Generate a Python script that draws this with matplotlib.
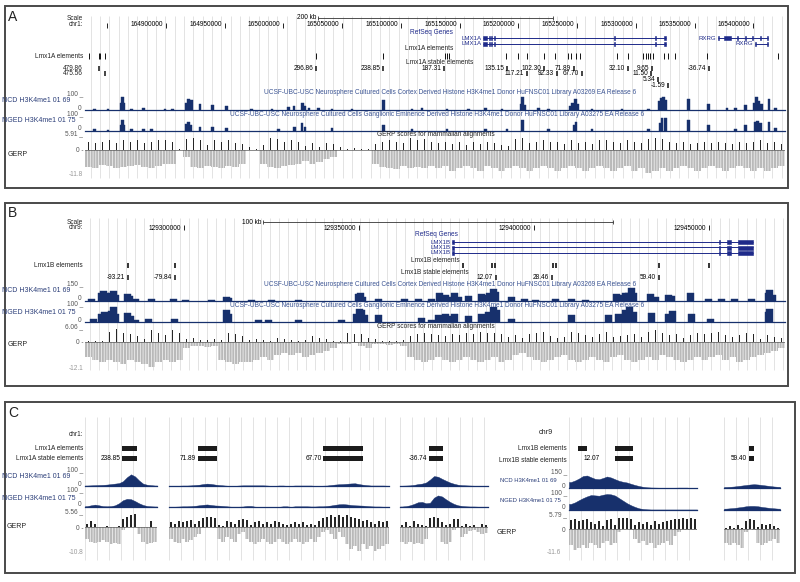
import numpy as np
import matplotlib
matplotlib.use("Agg")
import matplotlib.pyplot as plt
from matplotlib.patches import Rectangle

plt.rcParams['font.family'] = ['Liberation Sans', 'DejaVu Sans']
plt.rcParams['hatch.linewidth'] = 0.45

# ======================= DATA =======================
# ---- Panel A : chr1 (kb) ----
A_XLIM = (164831.0, 165427.0)
A_TICKS = [164850, 164900, 164950, 165000, 165050, 165100, 165150,
           165200, 165250, 165300, 165350, 165400]
A_SCALEBAR = (165029.5, 165229.5)          # 200 kb
A_GENE_NAMES = ['LMX1A', 'LMX1A', 'RXRG', 'RXRG']
A_GENE_ROW = [0, 1, 0, 1]
A_GENE_START = [165170.1, 165170.1, 165370.3, 165401.8]
A_GENE_END = [165325.6, 165325.6, 165412.9, 165412.9]
A_LMX1A_EXONS = [(165170.1, 165173.5), (165175.0, 165175.6), (165176.6, 165177.2),
                 (165179.2, 165179.8), (165281.7, 165282.3), (165316.6, 165317.2),
                 (165324.3, 165325.6)]
A_RXRG1_EXONS = [(165370.3, 165371.0), (165375.4, 165381.4), (165386.2, 165386.8),
                 (165393.0, 165393.6), (165399.0, 165399.6), (165405.8, 165406.4),
                 (165411.8, 165412.9)]
A_RXRG2_EXONS = [(165401.8, 165402.4), (165411.8, 165412.9)]
A_ELEM = [164834.4, 164842.9, 164843.8, 164848.0, 165027.8, 165084.9, 165137.7,
          165139.4, 165141.1, 165189.7, 165199.9, 165207.6, 165222.1, 165231.4,
          165242.5, 165245.1, 165249.3, 165252.7, 165284.3, 165293.6, 165306.4,
          165308.9, 165310.7, 165312.4, 165314.9, 165324.3, 165327.7, 165333.7,
          165360.9, 165421.4]
A_STABLE_POS = [164842.9, 164848.0, 165027.8, 165084.9, 165136.9, 165190.5, 165207.6,
                165222.1, 165233.1, 165247.6, 165254.4, 165293.6, 165314.1, 165313.2,
                165319.2, 165327.7, 165362.6]
A_STABLE_LAB = ['479.86', '475.56', '296.86', '238.85', '187.31', '135.15', '117.21',
                '102.30', '92.33', '71.89', '67.70', '32.10', '9.65', '11.50', '5.34',
                '-1.59', '-36.74']
A_STABLE_ROW = [0, 1, 0, 0, 0, 0, 1, 0, 1, 0, 1, 0, 0, 1, 2, 3, 0]

A_NCD_POS = [164838.9, 164850.6, 164861.7, 164862.8, 164864.0, 164870.8, 164880.7,
             164899.1, 164905.4, 164917.6, 164919.0, 164920.7, 164921.9, 164929.0,
             164939.4, 164951.7, 164973.0, 164990.1, 165004.2, 165009.1, 165016.1,
             165018.4, 165021.8, 165029.8, 165041.2, 165058.2, 165085.1, 165109.3,
             165117.9, 165139.2, 165157.6, 165171.8, 165186.0, 165202.5, 165203.6,
             165205.3, 165217.2, 165225.7, 165244.2, 165246.2, 165248.5, 165250.2,
             165262.7, 165288.3, 165310.9, 165320.0, 165321.7, 165323.7, 165325.4,
             165345.0, 165362.0, 165377.7, 165384.8, 165393.3, 165401.2, 165402.9,
             165404.6, 165406.9, 165413.2, 165418.9]
A_NCD_VAL = [10, 8, 45, 90, 50, 10, 12, 8, 10, 50, 72, 60, 65, 40, 32, 25, 8, 10, 18,
             28, 45, 28, 15, 12, 10, 8, 65, 10, 12, 8, 10, 12, 10, 40, 85, 35, 12, 10,
             30, 45, 72, 40, 8, 10, 10, 60, 78, 90, 70, 73, 42, 15, 12, 35, 45, 85, 60,
             40, 73, 15]
A_NGED_POS = [164838.9, 164850.6, 164861.7, 164862.8, 164864.0, 164870.8, 164880.7,
              164887.8, 164917.6, 164919.0, 164920.7, 164929.0, 164939.4, 164951.7,
              164995.7, 165009.3, 165015.6, 165018.4, 165041.2, 165085.1, 165109.3,
              165139.2, 165171.8, 165190.3, 165203.6, 165225.7, 165247.9, 165249.1,
              165262.7, 165310.9, 165320.9, 165322.3, 165325.1, 165345.0, 165362.0,
              165384.8, 165393.3, 165401.8, 165403.8, 165406.1, 165413.2, 165418.9]
A_NGED_VAL = [12, 8, 38, 69, 38, 12, 12, 10, 42, 54, 38, 25, 27, 20, 15, 25, 48, 25,
              20, 37, 12, 12, 12, 12, 69, 12, 38, 58, 10, 15, 48, 79, 83, 69, 37, 12,
              37, 58, 62, 48, 58, 20]
A_GERP_POS = [3.5, 3, 3.5, 4, 3, 4, 3.5, 4, 3, 3.5, 4, 4, 3.5, 0.3, 4.5, 5, 4, 2, 4, 3.5,
              4, 3, 2.5, 1, 0.5, 2, 5, 4.5, 3.5, 4, 3.5, 1.5, 3, 1, 3, 2.5, 1, 0.3, 0.8, 0.3,
              0.3, 2.5, 3.5, 4, 3.5, 3, 5, 4, 4.5, 3.5, 3, 3.5, 2.5, 3.5, 2, 3.5, 2.5, 3.5, 3, 2,
              1.5, 4.5, 5, 3, 3.5, 4, 3.5, 3.5, 2.5, 4, 3, 3.5, 2.5, 4, 4, 3.5, 3, 4, 3.5, 3,
              4.5, 5, 4.5, 3.5, 3, 3.5, 2.5, 3, 3.5, 3, 3.5, 3, 2.5, 3.5, 3, 3.5, 4, 3, 3.5, 2.5]
A_GERP_NEG = [-7.5, -8, -6.5, -7, -8, -7.5, -7, -6.5, -7.5, -8, -7, -6, -6, 0, -3, -7.5,
              -8, -7, -7.5, -8, -7, -7.5, -6, 0, 0, -6, -7.5, -8, -7, -6.5, -6, -5, -6,
              -5.5, -4, -3, 0, 0, 0, 0, 0, -6, -7.5, -8, -8.5, -7, -8, -7.5, -8, -7,
              -8, -7, -9, -8, -7, -8, -9, -7, -8, -9, -8, -7, -8, -9, -8, -7, -8, -9, -8, -7,
              -8, -9, -8, -7, -8, -9, -8, -7, -9, -8, -10, -9, -8, -9, -8, -7, -8, -9, -8, -7,
              -8, -9, -8, -7, -8, -9, -8, -9, -8, -7]

# ---- Panel B : chr9 (kb) ----
B_XLIM = (129271.7, 129471.7)
B_TICKS = [129300, 129350, 129400, 129450]
B_SCALEBAR = (129322.6, 129422.6)          # 100 kb
B_GENE_NAMES = ['LMX1B', 'LMX1B', 'LMX1B']
B_GENE_ROW = [0, 1, 2]
B_GENE_START = [129376.6, 129376.6, 129376.6]
B_GENE_END = [129462.6, 129462.6, 129462.6]
B_LMX1B_EXONS = [(129376.6, 129377.2), (129452.8, 129453.2), (129455.1, 129456.3),
                 (129458.3, 129462.6)]
B_ELEM = [129284.0, 129297.4, 129379.7, 129388.0, 129388.9, 129405.4, 129406.3,
          129435.7, 129450.0]
B_STABLE_POS = [129284.0, 129297.4, 129389.1, 129405.1, 129435.7]
B_STABLE_LAB = ['-93.21', '-79.84', '12.07', '28.46', '59.40']
B_STABLE_ROW = [0, 0, 0, 0, 0]

B_NCD_POS = [129273.6, 129276.3, 129276.9, 129277.6, 129278.4, 129279.3, 129279.9,
             129280.5, 129283.9, 129284.4, 129286.0, 129290.8, 129296.9, 129300.3,
             129307.9, 129312.2, 129312.7, 129319.3, 129325.1, 129332.7, 129349.8,
             129350.4, 129350.9, 129355.5, 129363.1, 129366.9, 129370.8, 129373.1,
             129374.6, 129376.0, 129377.4, 129378.4, 129381.2, 129385.1, 129386.0,
             129387.4, 129388.4, 129389.1, 129393.6, 129397.4, 129400.3, 129406.0,
             129410.8, 129414.6, 129423.6, 129424.6, 129426.0, 129426.9, 129427.7,
             129428.4, 129433.4, 129434.6, 129438.4, 129439.3, 129444.8, 129449.8,
             129453.6, 129457.4, 129462.2, 129466.9, 129467.4, 129468.1]
B_NCD_VAL = [15, 74, 91, 68, 32, 74, 88, 53, 62, 44, 20, 15, 20, 9, 9, 38, 24, 12, 12, 9,
             62, 68, 38, 15, 15, 18, 15, 68, 53, 38, 68, 38, 44, 62, 53, 74, 103, 82, 32,
             15, 9, 15, 15, 9, 62, 53, 68, 74, 112, 68, 62, 38, 53, 44, 74, 20, 18, 15,
             15, 74, 97, 53]
B_NGED_POS = [129274.1, 129276.5, 129277.2, 129278.0, 129279.3, 129279.8, 129280.5,
              129283.9, 129284.6, 129286.0, 129289.8, 129297.2, 129312.2, 129312.7,
              129321.2, 129324.1, 129332.7, 129345.1, 129349.3, 129350.0, 129350.8,
              129351.5, 129355.5, 129367.9, 129370.8, 129372.7, 129374.6, 129376.0,
              129377.4, 129381.2, 129385.1, 129386.9, 129388.4, 129389.3, 129393.6,
              129410.8, 129421.2, 129424.1, 129426.0, 129427.4, 129428.4, 129433.6,
              129438.4, 129439.5, 129445.1, 129450.3, 129466.9, 129467.4]
B_NGED_VAL = [19, 47, 57, 38, 62, 81, 47, 51, 32, 13, 19, 19, 66, 47, 13, 13, 13, 9, 47,
              70, 66, 38, 38, 23, 13, 38, 47, 32, 47, 32, 47, 57, 85, 66, 19, 38, 38, 47,
              66, 81, 57, 51, 47, 62, 47, 19, 57, 70]
B_GERP_POS = [0.3, 0.5, 0.5, 4.5, 5.5, 4, 3.5, 2.5, 1, 5, 4, 3, 5, 4, 1, 1.5, 0.8, 0.8, 1, 0.8,
              4, 3.5, 2.5, 0.8, 1, 0.8, 0.5, 1.5, 1, 0.8, 0.5, 0.8, 2.5, 1.5, 1, 0.5, 0.3, 4, 3.5, 3.5,
              1.5, 1, 0.5, 0.5, 0.5, 0.8, 2.5, 3.5, 4, 3.5, 3, 2.5, 3.5, 3, 4, 3.5, 4.5, 4, 4, 3.5,
              2, 3, 1.5, 3.5, 4, 4.5, 2.5, 1.5, 2, 4.5, 4, 3, 2, 3.5, 4.5, 2, 2.5, 3, 3.5, 2,
              4.5, 5, 4, 3, 3.5, 1.5, 3, 4, 3.5, 4, 4.5, 3, 2, 3, 4, 3.5, 1, 3, 2, 1.5]
B_GERP_NEG = [-7, -8, -9, -8, -9, -10, -8, -9, -10, -11, -9, -8, -9, -8, -3, -2, -2, -2.5, -2, -8,
              -9, -10, -9, -9, -8, -7, -8, -6, -5, -6, -5, -7, -6, -5, -4, -3, -1, -1, -0.5, -2,
              -3, -1, -1, -1.5, -1, -2, -7, -8, -9, -8, -7, -8, -9, -8, -7, -8, -9, -8, -7, -9,
              -8, -6, -5, -7, -8, -9, -8, -7, -6, -8, -9, -8, -7, -8, -9, -7, -6, -8, -9, -8,
              -7, -8, -6, -7, -8, -9, -8, -7, -8, -7, -6, -8, -7, -9, -8, -7, -6, -5, -4, -3]

# ---- Panel C : close-ups (bin units) ----
C_L1_ELEM_START, C_L1_ELEM_END = [9.3], [13.0]
C_L1_STAB_START, C_L1_STAB_END, C_L1_STAB_LAB = [9.3], [13.0], ['238.85']
C_L1_NCD = [3, 4, 5, 6, 7, 9, 12, 15, 18, 30, 55, 73, 60, 35, 15, 8, 5, 3]
C_L1_NGED = [5, 10, 14, 10, 5, 4, 5, 10, 22, 40, 48, 46, 35, 22, 12, 6, 4, 3]
C_L1_GPOS = [1.5, 2.5, 1.5, 0, 0, 0.5, 0, 0, 0.5, 3.5, 4.5, 5, 5.5, 0.3, 0, 0, 2.5, 0.3]
C_L1_GNEG = [-5, -6, -6.5, -6, -5.5, -6, -7, -6.5, -7, -1, 0, 0, 0, -3, -6, -7, -6.5, -6]

C_L2_ELEM_START, C_L2_ELEM_END = [7.3, 38.6], [12.0, 48.6]
C_L2_STAB_START, C_L2_STAB_END, C_L2_STAB_LAB = [7.3, 38.6], [12.0, 48.6], ['71.89', '67.70']
C_L2_NCD = [2, 2, 2, 3, 3, 4, 6, 8, 12, 15, 13, 9, 6, 4, 2, 1, 1, 3, 4, 4, 4, 4, 4, 4, 3, 1, 1,
            3, 3, 1, 1, 3, 3, 3, 3, 3, 1, 1, 2, 3, 6, 9, 11, 12, 14, 16, 17, 12, 8, 5, 3, 3, 3, 3, 2]
C_L2_NGED = [2, 2, 3, 4, 4, 5, 7, 10, 13, 15, 12, 9, 8, 6, 4, 2, 2, 2, 3, 6, 6, 2, 1, 1, 1, 1, 1,
             1, 4, 4, 1, 4, 4, 4, 4, 3, 3, 4, 4, 6, 9, 13, 16, 17, 15, 12, 10, 9, 8, 6, 4, 3, 3, 2, 2]
C_L2_GPOS = [2, 1.5, 2.5, 2, 2.5, 3, 1.5, 2.5, 4, 4.5, 4.5, 4, 1, 0.5, 2.5, 2, 1.5, 3, 3.5, 3,
             1, 2, 2.5, 1.5, 2, 1.5, 2.5, 2, 1.5, 1, 1.5, 2, 1.5, 2, 1, 1.5, 1, 2.5, 4, 4.5,
             5, 4.5, 5, 4.5, 5, 4.5, 4, 3.5, 2.5, 3, 2, 1.5, 2.5, 2, 2.5]
C_L2_GNEG = [-5, -6, -6.5, -5, -6, -5.5, -4, -3, -0.5, 0, 0, -0.5, -5, -6, -4, -5, -6, -3, -2, -5,
             -6, -7, -6, -5, -6, -7, -6, -5, -6, -7, -6, -5, -6, -7, -6, -5, -6, -4, -2, -1,
             -3, -5, -2, -4, -7, -9, -8, -10, -7, -9, -8, -10, -9, -8, -7]

C_L3_ELEM_START, C_L3_ELEM_END = [7.3], [10.8]
C_L3_STAB_START, C_L3_STAB_END, C_L3_STAB_LAB = [7.3], [10.8], ['-36.74']
C_L3_NCD = [2, 3, 4, 7, 12, 15, 22, 40, 62, 58, 45, 33, 22, 14, 8, 5, 4, 3, 2, 2, 2, 2]
C_L3_NGED = [3, 5, 10, 18, 28, 30, 22, 25, 55, 68, 62, 45, 30, 18, 10, 6, 4, 3, 3, 2, 2, 2]
C_L3_GPOS = [1, 2, 0.5, 2.5, 1.5, 1, 0.5, 4, 4.5, 4, 2, 1, 1.5, 3.5, 3.5, 0.5, 1.5, 0.5, 1, 0.3, 1.5, 1]
C_L3_GNEG = [-6, -7, -6, -7, -6.5, -7, -5, -0.5, 0, -0.5, -6, -7, -6, -1, -0.5, -4, -3, -1.5, -1, -2, -3, -2.5]

C_R1_ELEM_START, C_R1_ELEM_END = [2.3, 11.5], [4.6, 15.9]
C_R1_STAB_START, C_R1_STAB_END, C_R1_STAB_LAB = [11.5], [15.9], ['12.07']
C_R1_NCD = [60, 75, 95, 120, 125, 108, 92, 88, 100, 115, 105, 88, 72, 62, 55, 42, 30, 20, 12, 7,
            5, 4, 3, 3, 3, 3, 3, 4, 4, 4, 0, 0]
C_R1_NGED = [36, 45, 58, 70, 80, 88, 86, 84, 90, 94, 92, 85, 70, 55, 40, 28, 18, 10, 6, 4,
             3, 3, 3, 3, 3, 3, 3, 3, 3, 3, 3, 3]
C_R1_GPOS = [4, 4.5, 3.5, 4, 4.5, 3, 2.5, 3.5, 1.5, 4, 4.5, 2, 5, 5, 5, 4.5, 2, 3, 2.5, 3,
             2, 3.5, 2.5, 3, 3.5, 4, 4.5, 4.5, 5, 4.5, 5, 4.5]
C_R1_GNEG = [-7, -9, -8, -7, -8, -6, -7, -8, -6, -5, -7, -6, -1, 0, 0, -0.5, -4, -6, -5, -7,
             -6, -8, -7, -6, -5, -7, -3, -1, -0.5, -0.5, -0.5, -0.5]

C_R2_ELEM_START, C_R2_ELEM_END = [6.3], [7.5]
C_R2_STAB_START, C_R2_STAB_END, C_R2_STAB_LAB = [6.3], [7.5], ['59.40']
C_R2_NCD = [10, 12, 15, 20, 25, 30, 35, 38, 35, 30, 25, 20, 15, 12]
C_R2_NGED = [8, 10, 12, 15, 18, 22, 24, 24, 22, 18, 15, 12, 10, 8]
C_R2_GPOS = [0.5, 1.5, 0.5, 2, 0.5, 3.5, 4.5, 4, 1, 2.5, 2, 2.5, 1.5, 0.5]
C_R2_GNEG = [-6, -7, -6, -7, -8, -1, 0, -0.5, -6, -7, -6, -5, -4, -6]

NCD_TITLE_A = ("UCSF-UBC-USC Neurosphere Cultured Cells Cortex Derived Histone H3K4me1 "
               "Donor HuFNSC01 Library A03269 EA Release 6")
NGED_TITLE_A = ("UCSF-UBC-USC Neurosphere Cultured Cells Ganglionic Eminence Derived Histone "
                "H3K4me1 Donor HuFNSC01 Library A03275 EA Release 6")
GERP_TITLE = "GERP scores for mammalian alignments"

# ======================= STYLE / HELPERS =======================
W, H = 800, 582
NAVY = '#17306c'
LABEL_BLUE = '#2a3d78'
TITLE_BLUE = '#3b5493'
GENE_BLUE = '#1e2a8a'
GRID = '#dedede'
POS_C = '#262626'
NEG_C = '#b9b9b9'
VAL_C = '#555555'
FS = 4.7

fig = plt.figure(figsize=(W / 100, H / 100), dpi=100)


def fpos(x0, y0, x1, y1):
    return [x0 / W, 1 - y1 / H, (x1 - x0) / W, (y1 - y0) / H]


def new_ax(box, xlim, ylim):
    ax = fig.add_axes(fpos(*box))
    ax.set_xlim(*xlim)
    ax.set_ylim(*ylim)
    ax.set_axis_off()
    return ax


def ftext(x, y, s, ha='right', va='center', size=FS, color='#222222', **kw):
    fig.text(x / W, 1 - y / H, s, ha=ha, va=va, fontsize=size, color=color, **kw)


def border(x0, y0, x1, y1):
    fig.patches.append(Rectangle((x0 / W, 1 - y1 / H), (x1 - x0) / W, (y1 - y0) / H,
                                 transform=fig.transFigure, fill=False,
                                 edgecolor='#4a4a4a', lw=1.4))


def grid_lines(ov, xlim, step, y0, y1, start=None):
    s = xlim[0] + step * 0.6 if start is None else start
    ov.vlines(np.arange(s, xlim[1] + 1e-9, step), y0, y1, color=GRID, lw=0.6, zorder=0)


def peak_track(box, xlim, ymax, pos, val, width):
    ax = new_ax(box, xlim, (0, ymax))
    ax.bar(pos, val, width=width, color=NAVY, edgecolor=NAVY, linewidth=0.3)
    ax.axhline(0, color=NAVY, lw=0.9, clip_on=False)
    return ax


def area_track(box, nb, ymax, vals):
    ax = new_ax(box, (0, nb), (0, ymax))
    x = np.arange(nb) + 0.5
    xs = np.concatenate([[0], x, [nb]])
    ys = np.concatenate([[vals[0]], vals, [vals[-1]]])
    ax.fill_between(xs, 0, ys, color=NAVY, lw=0.3, edgecolor=NAVY)
    ax.axhline(0, color=NAVY, lw=0.9, clip_on=False)
    return ax


def gerp_track(box, xlim, ylim, pos_vals, neg_vals, pos_w, neg_w):
    ax = new_ax(box, xlim, ylim)
    n = len(pos_vals)
    step = (xlim[1] - xlim[0]) / n
    x = xlim[0] + step * (np.arange(n) + 0.5)
    ax.bar(x, neg_vals, width=step * neg_w, color=NEG_C, edgecolor='white',
           hatch='||||||', linewidth=0)
    ax.bar(x, pos_vals, width=step * pos_w, color=POS_C, linewidth=0)
    ax.axhline(0, color='#5a5a5a', lw=0.5)
    return ax


def draw_gene(ov, y, start, end, exons, name):
    ov.hlines(y, start, end, color=GENE_BLUE, lw=0.7)
    for s, e in exons:
        ov.bar(s, 4, bottom=y - 2, width=e - s, align='edge', color=GENE_BLUE,
               edgecolor=GENE_BLUE, lw=0.4)
    ov.annotate(name, (start, y), xytext=(-2, 0), textcoords='offset pixels',
                ha='right', va='center', fontsize=FS - 0.3, color=GENE_BLUE)


def ruler(ov, bar, bar_label, bar_y, ticks, tick_y, skip_first):
    ov.hlines(bar_y, bar[0], bar[1], color='#333333', lw=0.6)
    ov.vlines(bar, bar_y - 2, bar_y + 2, color='#333333', lw=0.6)
    ov.annotate(bar_label, (bar[0], bar_y), xytext=(-2, 0), textcoords='offset pixels',
                ha='right', va='center', fontsize=FS)
    ov.vlines(ticks, tick_y - 2.5, tick_y + 2.5, color='#222222', lw=0.7)
    for i, t in enumerate(ticks):
        if skip_first and i == 0:
            continue
        ov.annotate(f'{t * 1000:.0f}', (t, tick_y), xytext=(-3, 0),
                    textcoords='offset pixels', ha='right', va='center', fontsize=FS)


def stable_marks(ov, xlim, pos, labels, rows, row_y, x0px, x1px, margin_px):
    for p, lab, r in zip(pos, labels, rows):
        y = row_y[r]
        ov.vlines(p, y - 2.5, y + 2.5, color='#111111', lw=1.1)
        tick_px = x0px + (p - xlim[0]) / (xlim[1] - xlim[0]) * (x1px - x0px)
        if tick_px - 3 - 18 < x0px:
            ftext(margin_px, y, lab, size=FS)
        else:
            ov.annotate(lab, (p, y), xytext=(-3, 0), textcoords='offset pixels',
                        ha='right', va='center', fontsize=FS)


# ======================= PANEL A =======================
border(5, 6, 788, 188)
ftext(8, 17, 'A', ha='left', size=10)
ovA = new_ax((85, 6, 785, 188), A_XLIM, (188, 6))
grid_lines(ovA, A_XLIM, 7.95, 16, 178)
ruler(ovA, A_SCALEBAR, '200 kb', 17.5, A_TICKS, 25, True)
ftext(83, 18, 'Scale')
ftext(83, 25, 'chr1:')
ftext(431, 33, 'RefSeq Genes', ha='center', color=GENE_BLUE)
A_GENE_EXONS = [A_LMX1A_EXONS, A_LMX1A_EXONS, A_RXRG1_EXONS, A_RXRG2_EXONS]
gene_rows_A = [38, 43.5]
for nm, r, s, e, ex in zip(A_GENE_NAMES, A_GENE_ROW, A_GENE_START, A_GENE_END, A_GENE_EXONS):
    draw_gene(ovA, gene_rows_A[r], s, e, ex, nm)
ftext(429, 49, 'Lmx1A elements', ha='center')
ovA.vlines(A_ELEM, 53, 58.5, color='#111111', lw=0.7)
ftext(83, 56, 'Lmx1A elements')
ftext(440, 62, 'Lmx1A stable elements', ha='center')
stable_marks(ovA, A_XLIM, A_STABLE_POS, A_STABLE_LAB, A_STABLE_ROW,
             [68, 73.5, 79.5, 85.5], 85, 785, 83)

peak_track((85, 95, 785, 110), A_XLIM, 100, A_NCD_POS, A_NCD_VAL, 2.2)
ftext(450, 93, NCD_TITLE_A, ha='center', color=TITLE_BLUE)
ftext(83, 94, '100 _', color=VAL_C)
ftext(81, 108, '0', color=VAL_C)
ftext(2, 100, 'NCD H3K4me1 01 69', ha='left', color=LABEL_BLUE, size=5)

peak_track((85, 115, 785, 131), A_XLIM, 100, A_NGED_POS, A_NGED_VAL, 2.2)
ftext(437, 114, NGED_TITLE_A, ha='center', color=TITLE_BLUE)
ftext(83, 114, '100 _', color=VAL_C)
ftext(81, 128, '0', color=VAL_C)
ftext(2, 120.5, 'NGED H3K4me1 01 75', ha='left', color=LABEL_BLUE, size=5)

gerp_track((85, 136, 785, 177), A_XLIM, (-11.8, 5.91), A_GERP_POS, A_GERP_NEG, 0.25, 1.0)
ftext(436, 134.5, GERP_TITLE, ha='center', color='#222222')
ftext(83, 133.5, '5.91 _', color=VAL_C)
ftext(83, 151, '0 -', color=VAL_C)
ftext(83, 174, '-11.8', color='#999999')
ftext(8, 155, 'GERP', ha='left', size=5)

# ======================= PANEL B =======================
border(5, 203, 788, 386)
ftext(8, 213, 'B', ha='left', size=10)
ovB = new_ax((85, 203, 785, 386), B_XLIM, (386, 203))
grid_lines(ovB, B_XLIM, 2.57, 218, 370)
ruler(ovB, B_SCALEBAR, '100 kb', 222, B_TICKS, 228, False)
ftext(83, 222.5, 'Scale')
ftext(83, 228, 'chr9:')
ftext(436, 234, 'RefSeq Genes', ha='center', color=GENE_BLUE)
gene_rows_B = [242, 247.5, 253]
for nm, r, s, e in zip(B_GENE_NAMES, B_GENE_ROW, B_GENE_START, B_GENE_END):
    draw_gene(ovB, gene_rows_B[r], s, e, B_LMX1B_EXONS, nm)
ftext(435, 260, 'Lmx1B elements', ha='center')
ovB.vlines(B_ELEM, 263, 268.5, color='#111111', lw=1.2)
ftext(83, 265.5, 'Lmx1B elements')
ftext(435, 272, 'Lmx1B stable elements', ha='center')
stable_marks(ovB, B_XLIM, B_STABLE_POS, B_STABLE_LAB, B_STABLE_ROW, [277.5], 85, 785, 83)

peak_track((85, 284, 785, 301), B_XLIM, 150, B_NCD_POS, B_NCD_VAL, 2.0)
ftext(450, 285, NCD_TITLE_A, ha='center', color=TITLE_BLUE)
ftext(83, 284, '150 _', color=VAL_C)
ftext(81, 298.5, '0', color=VAL_C)
ftext(2, 291, 'NCD H3K4me1 01 69', ha='left', color=LABEL_BLUE, size=5)

peak_track((85, 304, 785, 322), B_XLIM, 100, B_NGED_POS, B_NGED_VAL, 2.0)
ftext(437, 305.5, NGED_TITLE_A, ha='center', color=TITLE_BLUE)
ftext(83, 304, '100 _', color=VAL_C)
ftext(81, 320, '0', color=VAL_C)
ftext(2, 312, 'NGED H3K4me1 01 75', ha='left', color=LABEL_BLUE, size=5)

gerp_track((85, 328, 785, 369), B_XLIM, (-12.1, 6.06), B_GERP_POS, B_GERP_NEG, 0.25, 1.0)
ftext(436, 327, GERP_TITLE, ha='center', color='#222222')
ftext(83, 327, '6.06 _', color=VAL_C)
ftext(83, 342, '0 -', color=VAL_C)
ftext(83, 368, '-12.1', color='#999999')
ftext(8, 345, 'GERP', ha='left', size=5)

# ======================= PANEL C =======================
border(5, 402, 795, 573)
ftext(8, 413, 'C', ha='left', size=10)

C_LEFT_TRACKS = dict(ncd=(470, 486, 100), nged=(490, 507, 100), gerp=(514, 553, (-10.8, 5.56)))
C_RIGHT_TRACKS = dict(ncd=(473, 488, 150), nged=(493, 510, 100), gerp=(516, 556, (-11.6, 5.79)))

C_SUBPANELS = [
    dict(px=(85, 157), tr=C_LEFT_TRACKS, es=C_L1_ELEM_START, ee=C_L1_ELEM_END,
         ss=C_L1_STAB_START, se=C_L1_STAB_END, sl=C_L1_STAB_LAB, gap=2,
         ncd=C_L1_NCD, nged=C_L1_NGED, gp=C_L1_GPOS, gn=C_L1_GNEG),
    dict(px=(169, 389), tr=C_LEFT_TRACKS, es=C_L2_ELEM_START, ee=C_L2_ELEM_END,
         ss=C_L2_STAB_START, se=C_L2_STAB_END, sl=C_L2_STAB_LAB, gap=2,
         ncd=C_L2_NCD, nged=C_L2_NGED, gp=C_L2_GPOS, gn=C_L2_GNEG),
    dict(px=(400, 488), tr=C_LEFT_TRACKS, es=C_L3_ELEM_START, ee=C_L3_ELEM_END,
         ss=C_L3_STAB_START, se=C_L3_STAB_END, sl=C_L3_STAB_LAB, gap=2,
         ncd=C_L3_NCD, nged=C_L3_NGED, gp=C_L3_GPOS, gn=C_L3_GNEG),
    dict(px=(569, 697), tr=C_RIGHT_TRACKS, es=C_R1_ELEM_START, ee=C_R1_ELEM_END,
         ss=C_R1_STAB_START, se=C_R1_STAB_END, sl=C_R1_STAB_LAB, gap=15,
         ncd=C_R1_NCD, nged=C_R1_NGED, gp=C_R1_GPOS, gn=C_R1_GNEG),
    dict(px=(724, 780), tr=C_RIGHT_TRACKS, es=C_R2_ELEM_START, ee=C_R2_ELEM_END,
         ss=C_R2_STAB_START, se=C_R2_STAB_END, sl=C_R2_STAB_LAB, gap=2,
         ncd=C_R2_NCD, nged=C_R2_NGED, gp=C_R2_GPOS, gn=C_R2_GNEG),
]

for sp in C_SUBPANELS:
    x0, x1 = sp['px']
    nb = len(sp['ncd'])
    ov = new_ax((x0, 402, x1, 573), (0, nb), (573, 402))
    ov.vlines(np.arange(0, nb + 1e-9, 3), 417, 560, color=GRID, lw=0.6, zorder=0)
    es, ee = np.array(sp['es']), np.array(sp['ee'])
    ov.barh(448.5, ee - es, left=es, height=5, color='#1c1c1c', lw=0)
    ss, se = np.array(sp['ss']), np.array(sp['se'])
    ov.barh(458.5, se - ss, left=ss, height=5, color='#1c1c1c', lw=0)
    for s, lab in zip(ss, sp['sl']):
        ov.annotate(lab, (s, 458.5), xytext=(-sp['gap'], 0), textcoords='offset pixels',
                    ha='right', va='center', fontsize=FS)
    tr = sp['tr']
    area_track((x0, tr['ncd'][0], x1, tr['ncd'][1]), nb, tr['ncd'][2], sp['ncd'])
    area_track((x0, tr['nged'][0], x1, tr['nged'][1]), nb, tr['nged'][2], sp['nged'])
    gerp_track((x0, tr['gerp'][0], x1, tr['gerp'][1]), (0, nb), tr['gerp'][2],
               sp['gp'], sp['gn'], 0.55, 1.0)

# left labels (chr1)
ftext(83, 434, 'chr1:')
ftext(83, 448, 'Lmx1A elements')
ftext(83, 458, 'Lmx1A stable elements')
ftext(83, 470, '100 _', color=VAL_C)
ftext(2, 476, 'NCD H3K4me1 01 69', ha='left', color=LABEL_BLUE, size=5)
ftext(81, 484, '0', color=VAL_C)
ftext(83, 490, '100 _', color=VAL_C)
ftext(2, 498, 'NGED H3K4me1 01 75', ha='left', color=LABEL_BLUE, size=5)
ftext(81, 505, '0', color=VAL_C)
ftext(83, 512, '5.56 _', color=VAL_C)
ftext(7, 526, 'GERP', ha='left', size=5)
ftext(83, 528, '0 -', color=VAL_C)
ftext(83, 552, '-10.8', color='#999999')

# right labels (chr9)
ftext(553, 433, 'chr9', size=5.2)
ftext(567, 448, 'Lmx1B elements')
ftext(567, 460, 'Lmx1B stable elements')
ftext(567, 472, '150 _', color=VAL_C)
ftext(500, 480, 'NCD H3K4me1 01 69', ha='left', color=LABEL_BLUE, size=4.2)
ftext(565, 487, '0', color=VAL_C)
ftext(567, 493, '100 _', color=VAL_C)
ftext(500, 500, 'NGED H3K4me1 01 75', ha='left', color=LABEL_BLUE, size=4.2)
ftext(565, 507.5, '0', color=VAL_C)
ftext(567, 514.5, '5.79 _', color=VAL_C)
ftext(497, 532, 'GERP', ha='left', size=5)
ftext(565, 530, '0', color=VAL_C)
ftext(561, 553, '-11.6', color='#999999')

fig.savefig('out.png', dpi=100, facecolor='white')
